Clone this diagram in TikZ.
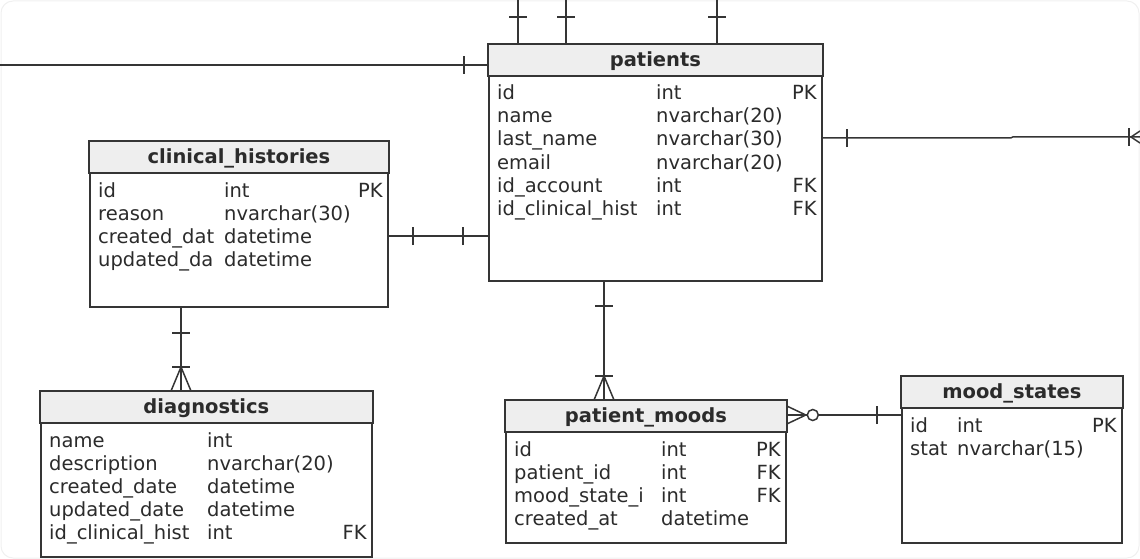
\documentclass[tikz,border=0pt]{standalone}
\usepackage{fontspec}
\setmainfont{DejaVu Sans}
\usetikzlibrary{calc,decorations.markings}
\definecolor{ink}{HTML}{2B2B2B}
\definecolor{edge}{HTML}{353535}
\definecolor{hdr}{HTML}{EEEEEE}
\tikzset{
  % table frame and its header band
  tbl/.style={draw=edge, line width=1.8pt, inner sep=0pt, fill=white},
  hdrbox/.style={draw=edge, line width=1.8pt, fill=hdr},
  title/.style={font=\fontsize{19.5}{23}\selectfont\bfseries, text=ink, inner sep=0pt},
  cell/.style={font=\fontsize{19.5}{23}\selectfont, text=ink, inner sep=0pt, text height=14pt, text depth=4pt},
  link/.style={draw=edge, line width=1.5pt},
  % bar across a link, measured from its start (from its end if negative)
  bar/.style={postaction={decorate,decoration={markings,
        mark=at position #1 with {\draw[link] (0,-9pt) -- (0,9pt);}}}},
  % crow's foot at the end of a link
  crow/.style args={#1 by #2}{postaction={decorate,decoration={markings,
        mark=at position -#1 with {\draw[link] (#1,-#2) -- (0,0) -- (#1,#2);}}}},
  % zero or many at the start of a link
  manyzero/.style={postaction={decorate,decoration={markings,
        mark=at position 19pt with {\draw[link] (-19pt,-9pt) -- (0,0) -- (-19pt,9pt);},
        mark=at position 26pt with {\draw[link, fill=white] (0,0) circle (5.5pt);}}}},
}
% name, x, y, width, height, title
\newcommand{\erdtable}[6]{%
  \node[tbl, minimum width=#4, minimum height=#5, anchor=north west] (#1) at (#2,#3) {};
  \draw[hdrbox] (#1.north west) rectangle ([yshift=-32pt]#1.north east);
  \node[title] (#1-title) at ([yshift=-17pt]#1.north) {#6};
}
% name, offset of the type column, rows field/type/key
\newcommand{\erdrows}[3]{%
  \foreach \f/\t/\k [count=\i] in {#3} {
    \pgfmathsetmacro\rowy{51+23*(\i-1)}
    \node[cell, anchor=west] (#1-f\i) at ([xshift=9pt, yshift={-\rowy pt}]#1.north west) {\f};
    \node[cell, anchor=west] (#1-t\i) at ([xshift=#2, yshift={-\rowy pt}]#1.north west) {\t};
    \node[cell, anchor=east] (#1-k\i) at ([xshift=-6pt, yshift={-\rowy pt}]#1.north east) {\k};
  }}
\begin{document}
\begin{tikzpicture}[x=1pt, y=-1pt]
\useasboundingbox (0,0) rectangle (1140,559);
\draw[gray!12, line width=1pt, rounded corners=12pt] (1,1) rectangle (1139,558);

% tables
\erdtable{pat}{488}{44}{333pt}{236pt}{patients}
\erdrows{pat}{168pt}{id/int/PK, name/nvarchar(20)/{}, last\_name/nvarchar(30)/{}, email/nvarchar(20)/{}, id\_account/int/FK, id\_clinical\_hist/int/FK}
\erdtable{clin}{89}{141}{298pt}{165pt}{clinical\_histories}
\erdrows{clin}{135pt}{id/int/PK, reason/nvarchar(30)/{}, created\_dat/datetime/{}, updated\_da/datetime/{}}
\erdtable{diag}{40}{391}{331pt}{165pt}{diagnostics}
\erdrows{diag}{167pt}{name/int/{}, description/nvarchar(20)/{}, created\_date/datetime/{}, updated\_date/datetime/{}, id\_clinical\_hist/int/FK}
\erdtable{pm}{505}{400}{280pt}{142pt}{patient\_moods}
\erdrows{pm}{156pt}{id/int/PK, patient\_id/int/FK, mood\_state\_i/int/FK, created\_at/datetime/{}}
\erdtable{ms}{901}{376}{220pt}{166pt}{mood\_states}
\erdrows{ms}{56pt}{id/int/PK, stat/nvarchar(15)/{}}

% free ends at the edges and the heights of the links
\coordinate (topA) at (518,0);
\coordinate (topB) at (566,0);
\coordinate (topC) at (717,0);
\coordinate (westEnd) at (0,65);
\coordinate (eastEnd) at (1140,137);
\coordinate (peLink) at (0,138);
\coordinate (chLink) at (0,236);
\coordinate (cdLink) at (181,0);
\coordinate (ppLink) at (604,0);
\coordinate (pmLink) at (0,415);

% links
\foreach \c in {topA,topB,topC}
  \draw[link, bar=17pt] (\c) -- (\c |- pat.north);
\draw[link, bar=-24pt] (westEnd) -- (westEnd -| pat.west);
\draw[link, bar=24pt, bar=-11pt, crow=9pt by 6pt] (pat.east |- peLink) -- ++(188,0) -- ++(2,-1) -- (eastEnd);
\draw[link, bar=24pt, bar=-25pt] (clin.east |- chLink) -- (pat.west |- chLink);
\draw[link, bar=25pt, bar=-24pt, crow=24pt by 10pt] (clin.south -| cdLink) -- (diag.north -| cdLink);
\draw[link, bar=24pt, bar=-24pt, crow=24pt by 10pt] (pat.south -| ppLink) -- (pm.north -| ppLink);
\draw[link, manyzero, bar=-24pt] (pm.east |- pmLink) -- (ms.west |- pmLink);
\end{tikzpicture}
\end{document}
